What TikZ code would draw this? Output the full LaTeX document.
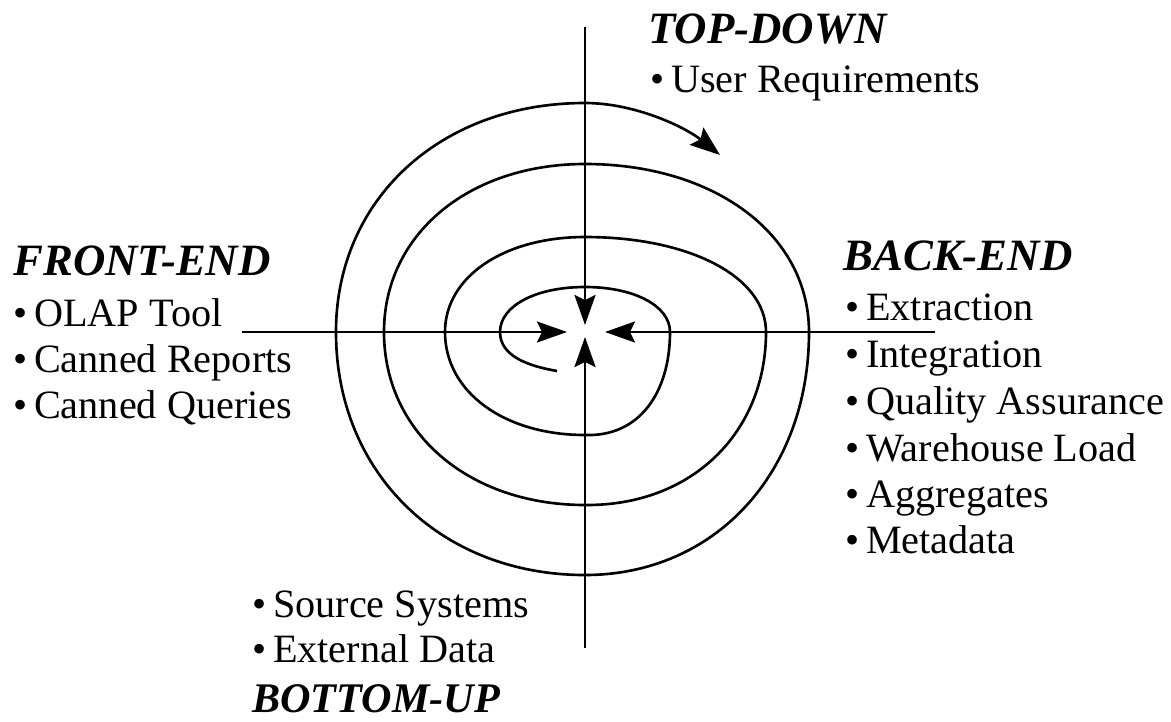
\documentclass[tikz,border=0pt]{standalone}
\usepackage{fontspec}
\setmainfont{Liberation Serif}
\usetikzlibrary{arrows.meta}
\tikzset{
  heading/.style={anchor=base west, inner sep=0pt, font=\fontsize{25.5}{30}\selectfont\bfseries\itshape},
  item/.style={anchor=base west, inner sep=0pt, font=\fontsize{22.9}{27}\selectfont},
  axis/.style={line width=1.5pt, -{Stealth[length=0.6cm, width=0.42cm, inset=0.1cm]}},
  spiral/.style={line width=1.5pt, -{Stealth[length=0.6cm, width=0.44cm, inset=0.1cm]}}
}
\newcommand{\bul}{\textbullet\,}
\begin{document}
\begin{tikzpicture}[x=0.02cm, y=-0.02cm]
\useasboundingbox (0,0) rectangle (1171,721);
% axes
\coordinate (top) at (585,27);
\coordinate (bottom) at (585,648);
\coordinate (left) at (242,332);
\coordinate (right) at (935,332);
\coordinate (tipdown) at (585,325);
\coordinate (tipup) at (585,337);
\coordinate (tipright) at (567,332);
\coordinate (tipleft) at (605,332);
\draw[axis] (top) -- (tipdown);
\draw[axis] (bottom) -- (tipup);
\draw[axis] (left) -- (tipright);
\draw[axis] (right) -- (tipleft);
% spiral crossing points
\coordinate (S) at (557,371);
\coordinate (L1) at (500,332); \coordinate (T1) at (585,287);
\coordinate (R1) at (670,332); \coordinate (B1) at (585,435);
\coordinate (L2) at (445,332); \coordinate (T2) at (585,237);
\coordinate (R2) at (766,332); \coordinate (B2) at (585,505);
\coordinate (L3) at (384,332); \coordinate (T3) at (585,164);
\coordinate (R3) at (809,332); \coordinate (B3) at (585,575);
\coordinate (L4) at (336,332); \coordinate (T4) at (585,103);
\coordinate (E) at (720,155);
\draw[spiral] (S)
  .. controls (528,366) and (500,356) .. (L1)
  .. controls (500,305.9) and (535.7,287) .. (T1)
  .. controls (634.3,287) and (670,305.9) .. (R1)
  .. controls (670,391.7) and (640,437) .. (B1)
  .. controls (503.8,435) and (445,391.7) .. (L2)
  .. controls (445,276.9) and (503.8,237) .. (T2)
  .. controls (690,237) and (766,276.9) .. (R2)
  .. controls (766,432.3) and (692,506) .. (B2)
  .. controls (468.4,505) and (384,432.3) .. (L3)
  .. controls (384,234.6) and (468.4,164) .. (T3)
  .. controls (714.9,164) and (809,234.6) .. (R3)
  .. controls (809,472.9) and (714.9,575) .. (B3)
  .. controls (440.6,575) and (336,472.9) .. (L4)
  .. controls (336,199.2) and (440.6,103) .. (T4)
  .. controls (635,103) and (685,127) .. (E);
% texts
\node[heading] (td) at (648,43) {TOP-DOWN};
\node[item] (ur) at (650,92) {\bul User Requirements};
\node[heading] (fe) at (13,275) {FRONT-END};
\node[item] (olap) at (13,326) {\bul OLAP Tool};
\node[item] (cr) at (13,372) {\bul Canned Reports};
\node[item] (cq) at (13,418) {\bul Canned Queries};
\node[heading] (be) at (843,270) {BACK-END};
\node[item] (ex) at (845,320) {\bul Extraction};
\node[item] (in) at (845,367) {\bul Integration};
\node[item] (qa) at (845,414) {\bul Quality Assurance};
\node[item] (wl) at (845,461) {\bul Warehouse Load};
\node[item] (ag) at (845,507) {\bul Aggregates};
\node[item] (md) at (845,553) {\bul Metadata};
\node[item] (ss) at (252,617) {\bul Source Systems};
\node[item] (ed) at (252,662) {\bul External Data};
\node[heading, font=\fontsize{24}{30}\selectfont\bfseries\itshape] (bu) at (252,712) {BOTTOM-UP};
\end{tikzpicture}
\end{document}
